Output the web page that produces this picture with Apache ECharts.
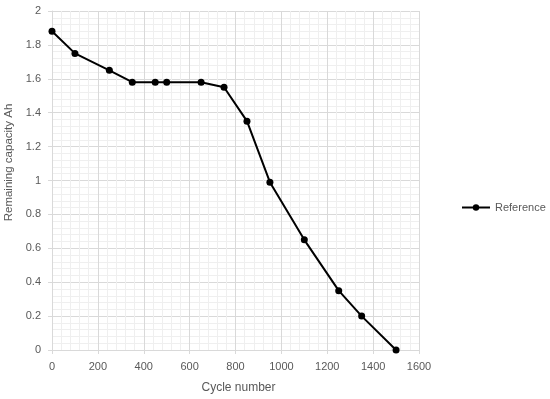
<!DOCTYPE html>
<html><head><meta charset="utf-8">
<script src="https://cdn.jsdelivr.net/npm/echarts@6/dist/echarts.min.js"></script>
<style>html,body{margin:0;padding:0;background:#fff}#c{width:550px;height:399px}</style>
</head><body><div id="c"></div>
<script>
const cycles = [0, 100, 250, 350, 450, 500, 650, 750, 850, 950, 1100, 1250, 1350, 1500];
const capacity = [1.88, 1.75, 1.65, 1.58, 1.58, 1.58, 1.58, 1.55, 1.35, 0.99, 0.65, 0.35, 0.2, 0];
const seriesName = 'Reference';
const chart = echarts.init(document.getElementById('c'));
const font = 'Liberation Sans, Arial, sans-serif';
chart.setOption({
  animation: false,
  textStyle: {fontFamily: font},
  grid: {left: 52, right: 131, top: 11, bottom: 49, containLabel: false, outerBoundsMode: 'none'},
  legend: {
    data: [seriesName], orient: 'vertical', left: 456, top: 197,
    itemWidth: 28, itemHeight: 8, itemGap: 5,
    textStyle: {color: '#595959', fontSize: 11, fontFamily: font}
  },
  xAxis: {
    type: 'value', min: 0, max: 1600, interval: 200,
    name: 'Cycle number', nameLocation: 'middle', nameGap: 32,
    nameTextStyle: {color: '#595959', fontSize: 12, padding: [0, 0, 0, 6]},
    axisLine: {show: true, lineStyle: {color: '#d9d9d9'}},
    axisTick: {show: true, length: 4, lineStyle: {color: '#d9d9d9'}},
    axisLabel: {color: '#595959', fontSize: 11, margin: 11, formatter: v => String(v)},
    splitLine: {show: true, lineStyle: {color: '#d9d9d9'}},
    minorTick: {show: false, splitNumber: 5},
    minorSplitLine: {show: true, lineStyle: {color: '#efefef'}}
  },
  yAxis: {
    type: 'value', min: 0, max: 2, interval: 0.2,
    name: 'Remaining capacity Ah', nameLocation: 'middle', nameGap: 34,
    nameTextStyle: {color: '#595959', fontSize: 11.5, padding: [0, 0, 0, 36]},
    axisLine: {show: true, lineStyle: {color: '#d9d9d9'}},
    axisTick: {show: true, length: 4, lineStyle: {color: '#d9d9d9'}},
    axisLabel: {color: '#595959', fontSize: 11, margin: 11, formatter: v => String(Math.round(v*10)/10)},
    splitLine: {show: true, lineStyle: {color: '#d9d9d9'}},
    minorTick: {show: false, splitNumber: 5},
    minorSplitLine: {show: true, lineStyle: {color: '#efefef'}}
  },
  series: [{
    name: seriesName, type: 'line',
    data: cycles.map((c, i) => [c, capacity[i]]),
    symbol: 'circle', symbolSize: 7,
    lineStyle: {color: '#000', width: 2},
    itemStyle: {color: '#000'}
  }]
});
</script></body></html>
